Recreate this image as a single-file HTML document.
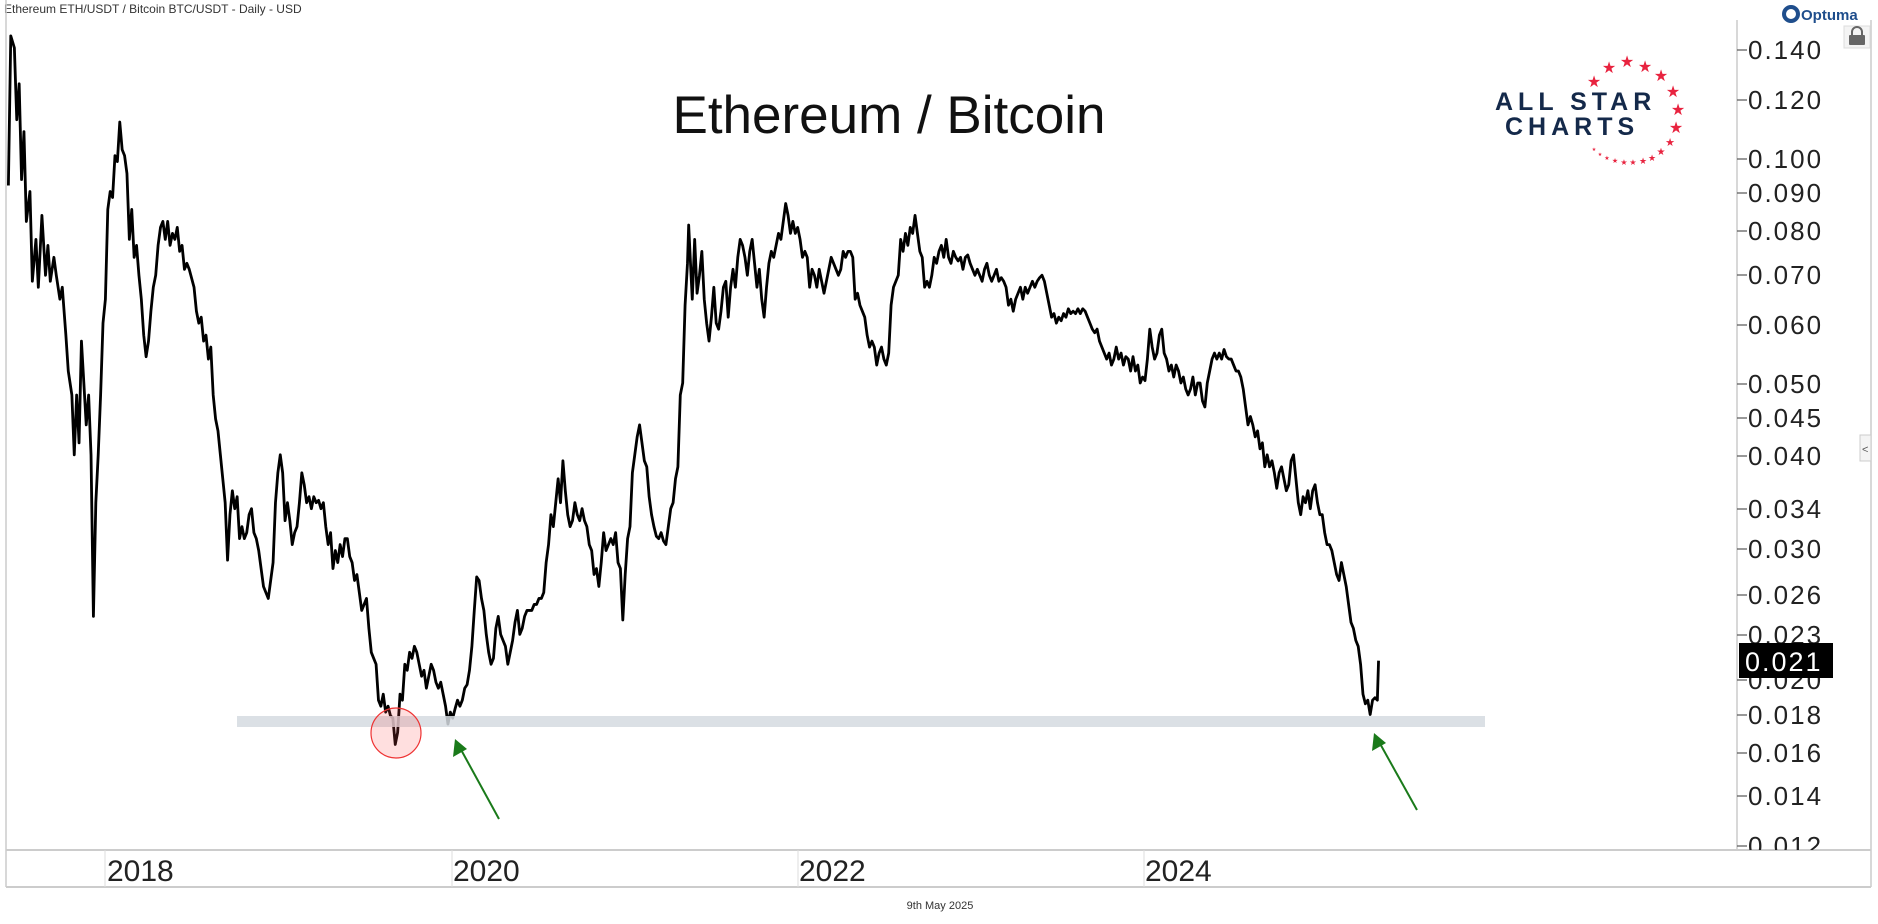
<!DOCTYPE html>
<html><head><meta charset="utf-8"><style>
html,body{margin:0;padding:0;background:#fff;}
svg{display:block;}
text{font-family:"Liberation Sans",sans-serif;}
</style></head><body>
<svg width="1878" height="924" viewBox="0 0 1878 924" xmlns="http://www.w3.org/2000/svg">
<defs><clipPath id="pc"><rect x="0" y="0" width="1878" height="850"/></clipPath></defs>
<rect width="1878" height="924" fill="#fff"/>
<text x="4" y="13" font-size="12" fill="#333">Ethereum ETH/USDT / Bitcoin BTC/USDT - Daily - USD</text>
<line x1="6" y1="0" x2="6" y2="887" stroke="#ccc" stroke-width="1.5"/>
<line x1="1737" y1="20" x2="1737" y2="850" stroke="#ccc" stroke-width="1.5"/>
<line x1="1871" y1="20" x2="1871" y2="887" stroke="#ccc" stroke-width="1.5"/>
<line x1="6" y1="850" x2="1871" y2="850" stroke="#ccc" stroke-width="2"/>
<line x1="6" y1="887" x2="1871" y2="887" stroke="#ccc" stroke-width="2"/>
<g stroke="#ddd" stroke-width="1"><line x1="105" y1="850" x2="105" y2="887"/><line x1="452" y1="850" x2="452" y2="887"/><line x1="798" y1="850" x2="798" y2="887"/><line x1="1144" y1="850" x2="1144" y2="887"/></g>
<g font-size="30" fill="#222"><text x="107" y="881">2018</text><text x="453" y="881">2020</text><text x="799" y="881">2022</text><text x="1145" y="881">2024</text></g>
<text x="940" y="909" font-size="11" fill="#333" text-anchor="middle">9th May 2025</text>
<g clip-path="url(#pc)" font-size="26" fill="#222" letter-spacing="2">
<g stroke="#555" stroke-width="1.2">
<line x1="1737" y1="50" x2="1747" y2="50"/><line x1="1737" y1="100" x2="1747" y2="100"/><line x1="1737" y1="159" x2="1747" y2="159"/><line x1="1737" y1="193" x2="1747" y2="193"/><line x1="1737" y1="231" x2="1747" y2="231"/><line x1="1737" y1="275" x2="1747" y2="275"/><line x1="1737" y1="325" x2="1747" y2="325"/><line x1="1737" y1="384" x2="1747" y2="384"/><line x1="1737" y1="418" x2="1747" y2="418"/><line x1="1737" y1="456" x2="1747" y2="456"/><line x1="1737" y1="509" x2="1747" y2="509"/><line x1="1737" y1="549" x2="1747" y2="549"/><line x1="1737" y1="595" x2="1747" y2="595"/><line x1="1737" y1="635" x2="1747" y2="635"/><line x1="1737" y1="680" x2="1747" y2="680"/><line x1="1737" y1="715" x2="1747" y2="715"/><line x1="1737" y1="753" x2="1747" y2="753"/><line x1="1737" y1="796" x2="1747" y2="796"/><line x1="1737" y1="846" x2="1747" y2="846"/>
</g>
<text x="1748" y="59">0.140</text><text x="1748" y="109">0.120</text><text x="1748" y="168">0.100</text><text x="1748" y="202">0.090</text><text x="1748" y="240">0.080</text><text x="1748" y="284">0.070</text><text x="1748" y="334">0.060</text><text x="1748" y="393">0.050</text><text x="1748" y="427">0.045</text><text x="1748" y="465">0.040</text><text x="1748" y="518">0.034</text><text x="1748" y="558">0.030</text><text x="1748" y="604">0.026</text><text x="1748" y="644">0.023</text><text x="1748" y="689">0.020</text><text x="1748" y="724">0.018</text><text x="1748" y="762">0.016</text><text x="1748" y="805">0.014</text><text x="1748" y="855">0.012</text>
</g>
<rect x="1739" y="643" width="94" height="35" fill="#000"/>
<text x="1745" y="671" font-size="27" fill="#fff" letter-spacing="2">0.021</text>
<text x="889" y="133" font-size="53" fill="#111" text-anchor="middle">Ethereum / Bitcoin</text>
<g font-weight="bold" fill="#14294a" letter-spacing="5">
<text x="1495" y="110" font-size="25">ALL STAR</text>
<text x="1505" y="135" font-size="25">CHARTS</text>
</g>
<g fill="#e8233f" font-size="16" text-anchor="middle">
<text x="1594" y="87">★</text><text x="1609" y="73">★</text><text x="1627" y="67">★</text><text x="1645" y="72">★</text><text x="1661" y="81">★</text><text x="1673" y="97">★</text><text x="1678" y="115">★</text><text x="1676" y="133">★</text>
<text x="1670" y="146" font-size="11">★</text><text x="1661" y="155" font-size="10">★</text><text x="1652" y="161" font-size="9">★</text><text x="1643" y="164" font-size="9">★</text><text x="1633" y="165" font-size="8">★</text><text x="1624" y="165" font-size="8">★</text><text x="1615" y="163" font-size="7">★</text><text x="1607" y="160" font-size="6">★</text><text x="1600" y="156" font-size="5">★</text><text x="1594" y="151" font-size="5">★</text>
</g>
<circle cx="1791" cy="14" r="7" fill="none" stroke="#1f4e8c" stroke-width="4"/>
<text x="1801" y="20" font-size="15" font-weight="bold" fill="#1f4e8c">Optuma</text>
<rect x="1844" y="26" width="26" height="22" fill="#f4f4f4" stroke="#ddd"/>
<rect x="1849" y="35" width="16" height="10" rx="1" fill="#666"/>
<path d="M1852 35 v-3 a5 5 0 0 1 10 0 v3" fill="none" stroke="#666" stroke-width="2"/>
<rect x="1860" y="435" width="11" height="26" fill="#f4f4f4" stroke="#ccc"/>
<text x="1862" y="453" font-size="11" fill="#555">&lt;</text>
<g transform="scale(1.1977,1.1969)">
<polyline fill="none" stroke="#000" stroke-width="2.8" vector-effect="non-scaling-stroke" stroke-linejoin="round" points="7,155 9,30 12,40 14,100 16,70 18,150 20,110 22,185 25,160 27,235 30,200 32,240 35,180 38,230 40,205 42,235 45,215 47,230 50,250 52,240 55,280 57,310 60,330 62,380 64,330 66,370 68,285 70,320 72,355 74,330 76,380 78,515 80,420 82,380 84,330 86,270 88,250 90,175 92,160 94,165 96,130 98,135 100,102 102,125 104,130 106,145 108,200 110,175 112,215 114,205 116,230 118,250 120,280 122,298 124,285 126,260 128,240 130,230 132,205 134,190 136,185 138,200 140,185 142,205 144,195 146,200 148,190 150,210 152,205 154,225 156,220 158,225 162,240 164,260 166,270 168,265 170,285 172,280 174,300 176,290 178,330 180,350 182,360 184,380 186,400 188,420 190,468 192,430 194,410 196,425 198,415 200,450 202,440 204,450 206,445 208,430 210,425 212,445 214,450 216,460 218,475 220,490 222,495 224,500 226,485 228,470 230,420 232,395 234,380 236,395 238,435 240,420 242,435 244,455 246,445 248,440 250,420 252,395 254,405 256,420 258,415 260,425 262,415 264,420 266,418 268,425 270,420 272,440 274,455 276,445 278,475 280,460 282,470 284,455 286,465 288,450 290,450 292,465 294,470 296,485 298,480 300,495 302,510 304,505 306,500 308,525 310,545 312,550 314,555 316,585 318,590 320,580 322,595 324,590 326,598 328,600 330,622 332,612 334,580 336,585 338,555 340,560 342,545 344,550 346,540 348,545 350,555 352,565 354,560 356,575 358,565 360,555 362,560 364,570 366,575 368,570 370,580 372,590 374,605 376,595 378,600 380,592 382,585 384,590 386,585 388,575 390,572 392,560 394,540 396,510 398,482 400,485 402,500 404,510 406,530 408,545 410,555 412,550 414,525 416,515 418,530 420,535 422,540 424,555 426,545 428,535 430,520 432,510 434,530 436,525 438,515 440,510 442,510 444,510 446,505 448,505 450,500 452,500 454,495 456,470 458,455 460,430 462,440 464,420 466,400 468,420 470,385 472,410 474,430 476,440 478,435 480,420 482,430 484,435 486,425 488,435 490,440 492,455 494,460 496,480 498,475 500,490 502,470 504,445 506,460 508,455 510,450 512,455 514,445 516,470 518,475 520,518 522,480 524,450 526,440 528,395 530,380 532,365 534,355 536,370 538,385 540,390 542,415 544,430 546,440 548,448 550,450 552,445 554,452 556,455 558,440 560,425 562,420 564,400 566,390 568,330 570,320 572,255 574,220 575,188 577,230 578,250 580,200 582,245 584,230 586,210 588,250 590,270 592,285 594,265 596,240 598,270 600,275 602,260 604,240 606,235 608,265 610,240 612,225 614,240 616,215 618,200 620,205 622,215 624,230 626,210 628,200 630,220 632,240 634,225 636,250 638,265 640,240 642,220 644,210 646,215 648,205 650,195 652,200 654,185 656,170 658,180 660,195 662,185 664,195 666,190 668,200 670,215 672,210 674,215 676,240 678,225 680,230 682,240 684,225 686,235 688,245 690,235 692,225 694,215 696,220 698,225 700,230 702,225 704,210 706,215 708,210 710,210 712,215 714,250 716,245 718,255 720,260 722,265 724,280 726,290 728,285 730,290 732,305 734,295 736,290 738,300 740,305 742,295 744,255 746,240 748,235 750,230 752,200 754,210 756,195 758,205 760,190 762,195 764,180 766,195 768,210 770,215 772,240 774,235 776,240 778,230 780,215 782,220 784,210 786,205 788,215 790,200 792,215 794,220 796,210 798,215 800,218 802,215 804,225 806,215 808,213 810,220 812,225 814,230 816,225 818,230 820,235 822,225 824,220 826,230 828,235 830,230 832,225 834,235 836,232 838,235 840,240 842,255 844,250 846,260 848,250 850,245 852,240 854,250 856,240 858,245 860,240 862,235 864,240 866,235 868,232 870,230 872,235 874,245 876,255 878,265 880,262 882,270 884,265 886,268 888,262 890,265 892,258 894,262 896,260 898,262 900,258 902,262 904,258 906,260 908,265 910,270 912,275 914,278 916,275 918,285 920,290 922,295 924,300 926,295 928,305 930,300 932,290 934,300 936,295 938,305 940,298 942,300 944,310 946,298 948,310 950,305 952,320 954,315 956,318 958,300 960,275 962,290 964,300 966,295 968,280 970,275 972,295 974,300 976,310 978,305 980,315 982,305 984,310 986,320 988,315 990,325 992,330 994,325 996,315 998,330 1000,320 1002,320 1004,335 1006,340 1008,320 1010,310 1012,300 1014,295 1016,300 1018,295 1020,300 1022,292 1024,298 1026,300 1028,300 1030,305 1032,310 1034,310 1036,315 1038,325 1040,340 1042,355 1044,348 1046,355 1048,365 1050,360 1052,375 1054,370 1056,390 1058,380 1060,390 1062,385 1064,395 1066,408 1068,395 1070,390 1072,400 1074,410 1076,405 1078,385 1080,380 1082,400 1084,420 1086,430 1088,415 1090,420 1092,410 1094,425 1096,410 1098,405 1100,420 1102,430 1104,430 1106,445 1108,455 1110,455 1112,460 1114,470 1116,480 1118,485 1120,470 1122,480 1124,490 1126,505 1128,520 1130,525 1132,535 1134,540 1136,555 1138,580 1140,588 1142,585 1144,597 1146,585 1148,583 1150,585 1151,552"/>
</g>
<rect x="237" y="716" width="1248" height="11" fill="#d5dbe1" fill-opacity="0.85"/>
<circle cx="396" cy="733" r="25" fill="rgba(255,80,80,0.18)" stroke="#e33" stroke-width="1.2"/>
<g stroke="#1a7a1a" stroke-width="2" fill="#1a7a1a">
<line x1="499" y1="819" x2="459" y2="746"/>
<polygon points="455,739 453,757 467,749" stroke="none"/>
<line x1="1417" y1="810" x2="1378" y2="740"/>
<polygon points="1374,733 1372,751 1386,743" stroke="none"/>
</g>
</svg>
</body></html>
